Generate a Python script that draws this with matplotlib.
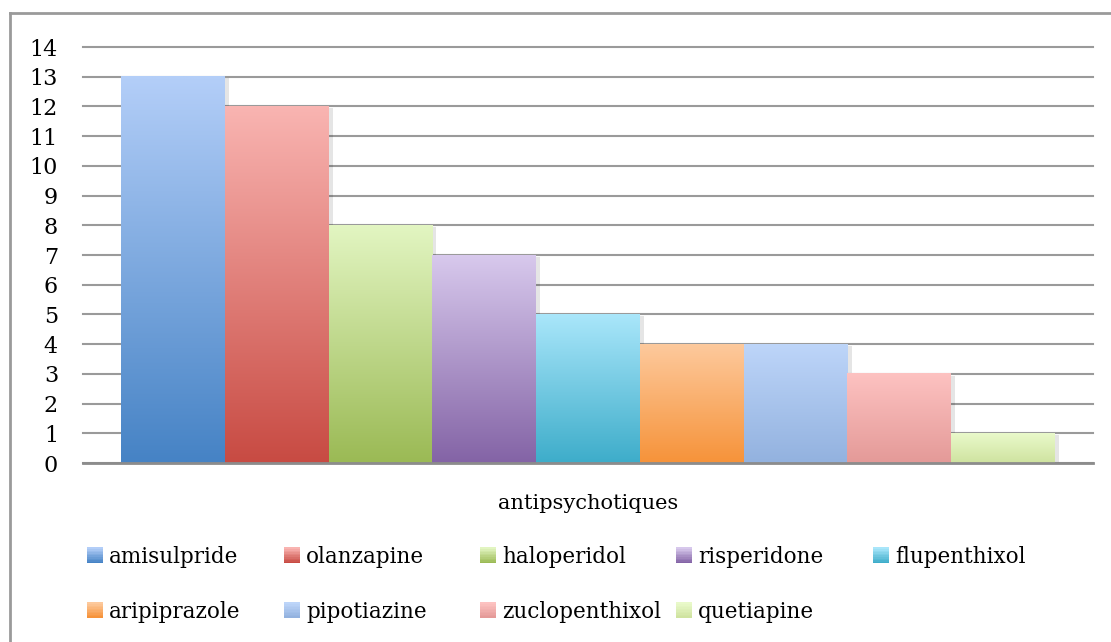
import numpy as np
import matplotlib
matplotlib.use("Agg")
import matplotlib.pyplot as plt
from matplotlib.patches import Rectangle
from matplotlib.legend_handler import HandlerBase
from matplotlib.lines import Line2D

# data
drugs = ["amisulpride", "olanzapine", "haloperidol", "risperidone", "flupenthixol",
         "aripiprazole", "pipotiazine", "zuclopenthixol", "quetiapine"]
counts = [13, 12, 8, 7, 5, 4, 4, 3, 1]
top_colors = ["#b3cef8", "#f9b4b1", "#e2f5c1", "#d7c8ec", "#a9e6fa",
              "#fdc99c", "#bdd5f9", "#fdc2c1", "#e9f9ca"]
bottom_colors = ["#4683c5", "#c84b43", "#9bba55", "#8464a6", "#3eadca",
                 "#f6933a", "#93b2df", "#e49a98", "#cfe3a0"]
y_ticks = list(range(0, 15))

plt.rcParams["font.family"] = "DejaVu Serif"
plt.rcParams["font.size"] = 15


def gradient(c_bottom, c_top, n=64):
    b = np.array(matplotlib.colors.to_rgb(c_bottom))
    t = np.array(matplotlib.colors.to_rgb(c_top))
    f = np.linspace(0, 1, n)[:, None]
    return (b + (t - b) * f)[:, None, :]


class GradientHandler(HandlerBase):
    def __init__(self, c_bottom, c_top):
        super().__init__()
        self.cb, self.ct = c_bottom, c_top

    def create_artists(self, legend, orig_handle, xdescent, ydescent,
                       width, height, fontsize, trans):
        size = height
        x0 = -xdescent + width - size
        y0 = -ydescent + (height - size) / 2
        arts = []
        n = 10
        g = gradient(self.cb, self.ct, n)
        for i in range(n):
            r = Rectangle((x0, y0 + size * i / n), size, size / n + 0.3,
                          facecolor=g[i, 0], edgecolor="none", transform=trans)
            arts.append(r)
        return arts


fig = plt.figure(figsize=(11.11, 6.42), dpi=100)
ax = fig.add_axes([83 / 1111, 1 - 463 / 642, 1010 / 1111, 416 / 642])

x = np.arange(len(drugs))
for i, v in enumerate(counts):
    # soft shadow
    ax.add_patch(Rectangle((x[i] - 0.5 + 0.04, -0.06), 1.0, v, facecolor="#000000",
                           alpha=0.10, edgecolor="none", zorder=2))
for i, v in enumerate(counts):
    ax.imshow(gradient(bottom_colors[i], top_colors[i]), origin="lower",
              extent=[x[i] - 0.5, x[i] + 0.5, 0, v], aspect="auto", zorder=3,
              interpolation="bilinear")

ax.set_xlim(-0.866, 8.866)
ax.set_ylim(0, 14)
ax.set_yticks(y_ticks)
ax.set_xticks([])
ax.grid(axis="y", color="#9a9a9a", linewidth=1.5, zorder=1)
for gl in ax.get_ygridlines():
    gl.set_clip_on(False)
ax.set_axisbelow(True)
for s in ["top", "right", "left"]:
    ax.spines[s].set_visible(False)
ax.spines["bottom"].set_color("#8c8c8c")
ax.spines["bottom"].set_linewidth(2)
ax.spines["bottom"].set_zorder(4)
ax.tick_params(axis="y", length=0, pad=18, labelsize=16)
ax.set_xlabel("antipsychotiques", fontsize=15, labelpad=22)

# legend: five evenly spaced columns, two rows
col_x = [87, 284, 480, 676, 873]
for c, px in enumerate(col_x):
    idx = [i for i in (c, c + 5) if i < len(drugs)]
    hs = [Rectangle((0, 0), 1, 1) for _ in idx]
    hmap = {h: GradientHandler(bottom_colors[i], top_colors[i]) for h, i in zip(hs, idx)}
    leg = fig.legend(hs, [drugs[i] for i in idx], loc="upper left",
                     bbox_to_anchor=(px / 1111, 1 - 546 / 642),
                     frameon=False, handler_map=hmap, handlelength=0.72,
                     handleheight=0.72, handletextpad=0.3, labelspacing=1.52,
                     fontsize=15.5, borderaxespad=0, borderpad=0)

# outer chart frame (cropped at right and bottom)
fig.add_artist(Line2D([10 / 1111, 1], [1 - 13 / 642] * 2, color="#9a9a9a", linewidth=2))
fig.add_artist(Line2D([10 / 1111] * 2, [0, 1 - 13 / 642], color="#9a9a9a", linewidth=2))

fig.savefig("out.png", dpi=100)
